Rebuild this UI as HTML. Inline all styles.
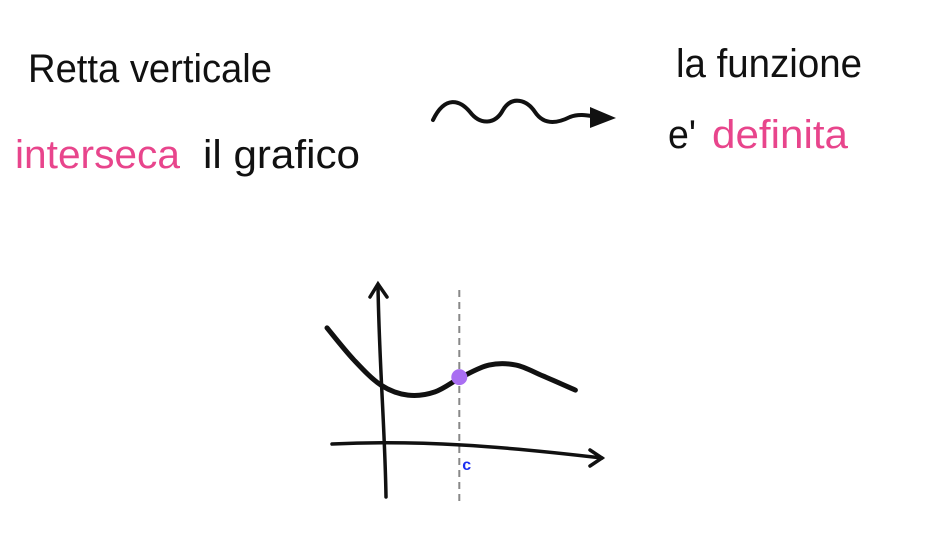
<!DOCTYPE html>
<html><head><meta charset="utf-8"><style>
html,body{margin:0;padding:0;background:#fff;}
svg{display:block;}
text{font-family:"Liberation Sans",sans-serif;}
</style></head><body>
<svg width="943" height="559" viewBox="0 0 943 559">
<g font-size="40">
<text x="28" y="82" textLength="244" lengthAdjust="spacingAndGlyphs" fill="#111">Retta verticale</text>
<text x="15" y="168" textLength="165" lengthAdjust="spacingAndGlyphs" fill="#e8458c">interseca</text>
<text x="203" y="168" textLength="157" lengthAdjust="spacingAndGlyphs" fill="#111">il grafico</text>
</g>
<path d="M433,120 C445,95 460,100 470,112 C480,125 495,125 503,110 C512,95 527,100 535,112 C545,127 560,122 570,117 C580,113 590,116 598,117" fill="none" stroke="#111" stroke-width="4" stroke-linecap="round"/>
<polygon points="590,107 616,118 590,128" fill="#111"/>
<g font-size="40">
<text x="676" y="77" textLength="186" lengthAdjust="spacingAndGlyphs" fill="#111">la funzione</text>
<text x="668" y="148" textLength="28" lengthAdjust="spacingAndGlyphs" fill="#111">e'</text>
<text x="712" y="148" textLength="136" lengthAdjust="spacingAndGlyphs" fill="#e8458c">definita</text>
</g>
<g id="chart"></g>
</svg>
<script>
const curveX=[-1,-0.5,0,0.5,1,1.5,2,2.5,3.0,3.6];
const curveY=[3.97,2.88,2.03,1.69,1.80,2.31,2.71,2.71,2.34,1.86];
const pointX=[1.45];
const pointY=[2.3];
const tickLabels=['c'];
function sx(v){return 381+v*54;}
function sy(v){return 445-v*29.5;}
const NS='http://www.w3.org/2000/svg';
const g=document.getElementById('chart');
function mk(t,a){const e=document.createElementNS(NS,t);for(const k in a)e.setAttribute(k,a[k]);g.appendChild(e);return e;}
let e;
e=mk('line',{x1:sx(pointX[0]),y1:290,x2:sx(pointX[0]),y2:503,stroke:'#888','stroke-width':2,'stroke-dasharray':'7 5'});


e=mk('path',{d:'M332,444 C420,440 500,446 602,458',fill:'none',stroke:'#111','stroke-width':3.5,'stroke-linecap':'round'});


e=mk('path',{d:'M590,450 L602,458 L590,466',fill:'none',stroke:'#111','stroke-width':3.5,'stroke-linecap':'round'});


e=mk('path',{d:'M378,285 C379,360 385,430 386,497',fill:'none',stroke:'#111','stroke-width':3.5,'stroke-linecap':'round'});


e=mk('path',{d:'M370,297 L378,284 L387,297',fill:'none',stroke:'#111','stroke-width':3.5,'stroke-linecap':'round'});


const pts=curveX.map((x,i)=>[sx(x),sy(curveY[i])]);
let d='M'+pts[0][0]+','+pts[0][1];
for(let i=0;i<pts.length-1;i++){const p0=pts[Math.max(0,i-1)],p1=pts[i],p2=pts[i+1],p3=pts[Math.min(pts.length-1,i+2)];
d+=' C'+(p1[0]+(p2[0]-p0[0])/6)+','+(p1[1]+(p2[1]-p0[1])/6)+' '+(p2[0]-(p3[0]-p1[0])/6)+','+(p2[1]-(p3[1]-p1[1])/6)+' '+p2[0]+','+p2[1];}
e=mk('path',{d:d,fill:'none',stroke:'#111','stroke-width':5,'stroke-linecap':'round'});


e=mk('circle',{cx:sx(pointX[0]),cy:sy(pointY[0]),r:8,fill:'#a96ef2'});


e=mk('text',{x:sx(pointX[0])+3,y:470,fill:'#1a2ef0','font-size':16,'font-weight':'bold'});
e.textContent=tickLabels[0];


</script>
</body></html>
